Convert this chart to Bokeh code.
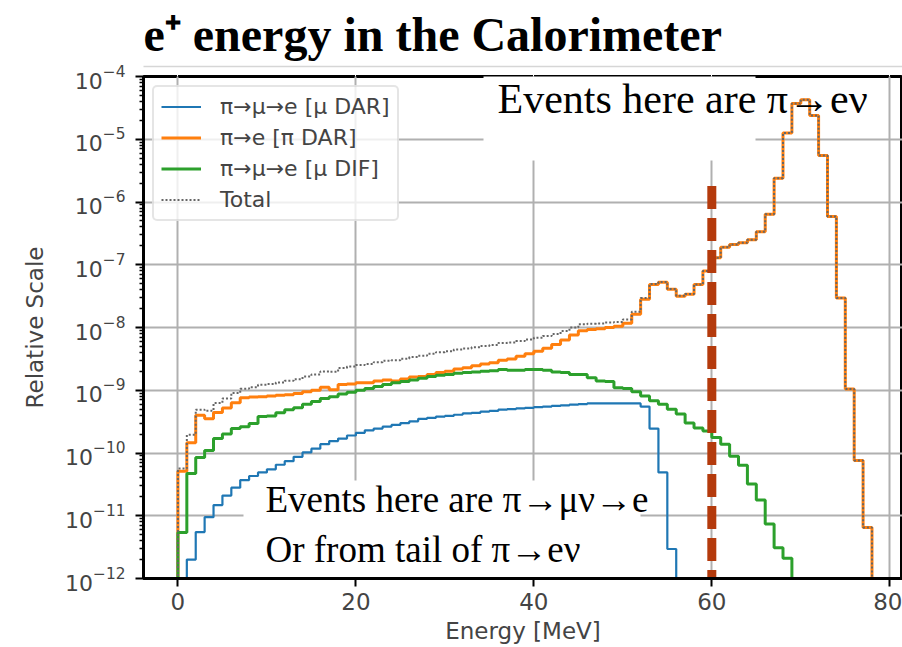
import numpy as np
from bokeh.plotting import figure
from bokeh.models import Range1d, FixedTicker, Label, BoxAnnotation, LinearAxis
from bokeh.embed import file_html
from bokeh.resources import INLINE

# ---------------- data (1 MeV bins from 0 to 78 MeV) ----------------
energy_edges = list(range(0, 79))

pi_mu_e_dar = [  # blue
    0.0, 2.0e-12, 5.5e-12, 9.5e-12, 1.48e-11, 2.1e-11, 2.8e-11, 3.7e-11, 4.3e-11, 4.9e-11,
    5.5e-11, 6.5e-11, 7.4e-11, 8.7e-11, 1.02e-10, 1.17e-10, 1.38e-10, 1.55e-10, 1.70e-10, 1.90e-10,
    2.1e-10, 2.3e-10, 2.45e-10, 2.63e-10, 2.8e-10, 3.0e-10, 3.2e-10, 3.5e-10, 3.63e-10, 3.8e-10,
    3.9e-10, 4.07e-10, 4.27e-10, 4.37e-10, 4.57e-10, 4.68e-10, 4.9e-10, 5.0e-10, 5.13e-10, 5.25e-10,
    5.37e-10, 5.5e-10, 5.62e-10, 5.75e-10, 5.89e-10, 6.03e-10, 6.17e-10, 6.2e-10, 6.2e-10, 6.2e-10,
    6.2e-10, 6.17e-10, 5.5e-10, 2.45e-10, 4.9e-11, 2.95e-12,
] + [0.0] * 22

pi_e_dar = [  # orange
    5.1e-11, 1.46e-10, 4.0e-10, 3.5e-10, 4.4e-10, 5.2e-10, 6.3e-10, 7.6e-10, 7.8e-10, 7.9e-10,
    8.1e-10, 8.3e-10, 8.5e-10, 8.9e-10, 9.5e-10, 1.0e-9, 1.12e-9, 1.02e-9, 1.23e-9, 1.26e-9,
    1.32e-9, 1.32e-9, 1.41e-9, 1.45e-9, 1.41e-9, 1.51e-9, 1.62e-9, 1.66e-9, 1.78e-9, 1.91e-9,
    2.0e-9, 2.19e-9, 2.29e-9, 2.45e-9, 2.63e-9, 2.75e-9, 3.02e-9, 3.16e-9, 3.47e-9, 3.80e-9,
    4.17e-9, 4.68e-9, 5.37e-9, 6.31e-9, 7.59e-9, 8.91e-9, 9.33e-9, 9.55e-9, 1.0e-8, 1.05e-8,
    1.17e-8, 1.62e-8, 2.82e-8, 4.84e-8, 5.25e-8, 4.07e-8, 3.16e-8, 3.39e-8, 4.84e-8, 7.94e-8,
    1.29e-7, 1.9e-7, 2.1e-7, 2.24e-7, 2.51e-7, 3.35e-7, 6.4e-7, 2.40e-6, 1.26e-5, 3.7e-5,
    4.27e-5, 2.4e-5, 5.5e-6, 5.89e-7, 2.95e-8, 1.05e-9, 7.6e-11, 6.5e-12,
]

pi_mu_e_dif = [  # green
    5.4e-12, 4.7e-11, 8.5e-11, 1.10e-10, 1.70e-10, 2.0e-10, 2.45e-10, 2.63e-10, 2.95e-10, 3.8e-10,
    3.9e-10, 4.37e-10, 4.9e-10, 5.25e-10, 6.0e-10, 6.6e-10, 7.4e-10, 7.9e-10, 8.7e-10, 9.3e-10,
    1.0e-9, 1.07e-9, 1.15e-9, 1.23e-9, 1.32e-9, 1.38e-9, 1.45e-9, 1.55e-9, 1.66e-9, 1.74e-9,
    1.78e-9, 1.86e-9, 1.91e-9, 1.95e-9, 2.0e-9, 2.04e-9, 2.14e-9, 2.09e-9, 2.09e-9, 2.14e-9,
    2.14e-9, 2.09e-9, 1.95e-9, 1.91e-9, 1.78e-9, 1.78e-9, 1.58e-9, 1.41e-9, 1.38e-9, 1.10e-9,
    1.07e-9, 9.5e-10, 8.1e-10, 6.8e-10, 6.0e-10, 5.0e-10, 4.2e-10, 3.0e-10, 2.5e-10, 2.24e-10,
    1.76e-10, 1.38e-10, 8.9e-11, 6.4e-11, 3.2e-11, 1.78e-11, 7.4e-12, 3.1e-12, 2.1e-12,
] + [0.0] * 9

total = list(np.array(pi_mu_e_dar) + np.array(pi_e_dar) + np.array(pi_mu_e_dif))

series_labels = ["π→μ→e [μ DAR]", "π→e [π DAR]", "π→μ→e [μ DIF]", "Total"]
x_ticks = [0, 20, 40, 60, 80]
y_decades = [10.0 ** k for k in range(-12, -3)]
y_minor = [m * 10.0 ** k for k in range(-12, -4) for m in range(2, 10)]

cut_energy = 60
cut_top = 1.8e-6

title_text = "e⁺ energy in the Calorimeter"
note_top = "Events here are π→eν"
note_bottom_1 = "Events here are π→μν→e"
note_bottom_2 = "Or from tail of π→eν"
x_label = "Energy [MeV]"
y_label = "Relative Scale"

Y_MIN, Y_MAX = 1e-12, 1e-4
FLOOR = 1e-14


def step_path(vals):
    nz = [i for i, v in enumerate(vals) if v > 0]
    a, b = nz[0], nz[-1]
    xs, ys = [energy_edges[a]], [FLOOR]
    for i in range(a, b + 1):
        xs += [energy_edges[i], energy_edges[i + 1]]
        ys += [vals[i], vals[i]]
    xs.append(energy_edges[b + 1])
    ys.append(FLOOR)
    return xs, ys


def screen_box(left, right, bottom, top, **kw):
    return BoxAnnotation(left=left, right=right, bottom=bottom, top=top,
                         left_units="screen", right_units="screen",
                         bottom_units="screen", top_units="screen", **kw)


def screen_label(x, y, text, **kw):
    return Label(x=x, y=y, x_units="screen", y_units="screen", text=text, **kw)


# ---------------- main plot ----------------
p = figure(width=902, height=647, x_range=Range1d(-3.87, 81.43), y_range=Range1d(Y_MIN, Y_MAX),
           y_axis_type="log", toolbar_location=None, output_backend="svg",
           min_border_left=143, min_border_right=0, min_border_top=75, min_border_bottom=69)
p.outline_line_color = "black"
p.outline_line_width = 3

for g in (p.xgrid[0], p.ygrid[0]):
    g.grid_line_color = "#b0b0b0"
    g.grid_line_width = 2

# white boxes of the slide's text frames (they cover the grid)
p.add_layout(screen_box(340, 612, 418, 503, fill_color="white", fill_alpha=1.0,
                        line_color=None, level="underlay"))
p.add_layout(screen_box(100, 497, 0, 98, fill_color="white", fill_alpha=1.0,
                        line_color=None, level="underlay"))

ax = p.xaxis[0]
ax.ticker = FixedTicker(ticks=x_ticks)
ax.minor_tick_line_color = None
ax.major_tick_out = 8
ax.major_tick_in = 0
ax.major_tick_line_width = 2
ax.axis_line_width = 3
ax.major_label_text_font = "DejaVu Sans"
ax.major_label_text_font_size = "23px"
ax.major_label_standoff = 6
ax.axis_label = x_label
ax.axis_label_text_font = "DejaVu Sans"
ax.axis_label_text_font_size = "23px"
ax.axis_label_text_font_style = "normal"
ax.axis_label_standoff = 5

ay = p.yaxis[0]
ay.ticker = FixedTicker(ticks=y_decades, minor_ticks=y_minor)
ay.major_tick_out = 8
ay.major_tick_in = 0
ay.minor_tick_out = 4
ay.minor_tick_in = 0
ay.major_tick_line_width = 2
ay.minor_tick_line_width = 1.5
ay.axis_line_width = 3
ay.major_label_text_font = "DejaVu Sans"
ay.major_label_text_font_size = "22px"
ay.major_label_standoff = 10
ay.axis_label = y_label
ay.axis_label_text_font = "DejaVu Sans"
ay.axis_label_text_font_size = "23px"
ay.axis_label_text_font_style = "normal"
ay.axis_label_standoff = 14

# slide rule above the plot: a spacer axis (white ticks, no labels), then a bare axis line
spacer = LinearAxis(ticker=FixedTicker(ticks=x_ticks), axis_line_color=None,
                    major_tick_out=10, major_tick_in=0, minor_tick_out=0, minor_tick_in=0,
                    major_tick_line_color="white", minor_tick_line_color=None,
                    major_label_text_color=None, major_label_text_font_size="1px",
                    major_label_standoff=0)
rule = LinearAxis(ticker=FixedTicker(ticks=x_ticks), axis_line_color="#d6d6d6", axis_line_width=1.5,
                  major_tick_out=0, major_tick_in=0, minor_tick_out=0, minor_tick_in=0,
                  major_tick_line_color=None, minor_tick_line_color=None,
                  major_label_text_color=None, major_label_text_font_size="1px",
                  major_label_standoff=0)
p.add_layout(spacer, "above")
p.add_layout(rule, "above")

# slide title
p.title.text = title_text
p.title.text_font = "Liberation Serif"
p.title.text_font_style = "bold"
p.title.text_font_size = "48px"
p.title.text_color = "black"
p.title.align = "left"
p.title.offset = 0
p.title.standoff = 11

colors = ["#1f77b4", "#ff7f0e", "#2ca02c"]
widths = [2.2, 3, 3]
for vals, c, w, lab in zip([pi_mu_e_dar, pi_e_dar, pi_mu_e_dif], colors, widths, series_labels):
    xs, ys = step_path(vals)
    p.line(xs, ys, line_color=c, line_width=w, legend_label=lab)
xs, ys = step_path(total)
p.line(xs, ys, line_color="#666666", line_width=2, line_dash="2 2", legend_label=series_labels[3])

# threshold line
p.segment(x0=[cut_energy], y0=[cut_top], x1=[cut_energy], y1=[Y_MIN],
          line_color="#b43a0c", line_width=9, line_dash="23 9")

# slide annotations
p.add_layout(screen_label(354, 480, note_top, text_font="Liberation Serif",
                          text_font_size="42px", text_color="black", text_baseline="alphabetic"))
p.add_layout(screen_label(122, 79, note_bottom_1, text_font="Liberation Serif",
                          text_font_size="37px", text_color="black", text_baseline="alphabetic"))
p.add_layout(screen_label(122, 29, note_bottom_2, text_font="Liberation Serif",
                          text_font_size="37px", text_color="black", text_baseline="alphabetic"))

lg = p.legend[0]
lg.location = "top_left"
lg.margin = 9
lg.padding = 7
lg.spacing = 6
lg.glyph_width = 40
lg.glyph_height = 25
lg.label_height = 25
lg.label_standoff = 19
lg.label_text_font = "DejaVu Sans"
lg.label_text_font_size = "22px"
lg.border_line_color = "#cccccc"
lg.border_line_width = 2
lg.background_fill_alpha = 0.8
try:
    lg.border_radius = 5
except Exception:
    pass

open("out.html", "w").write(file_html(p, INLINE))
